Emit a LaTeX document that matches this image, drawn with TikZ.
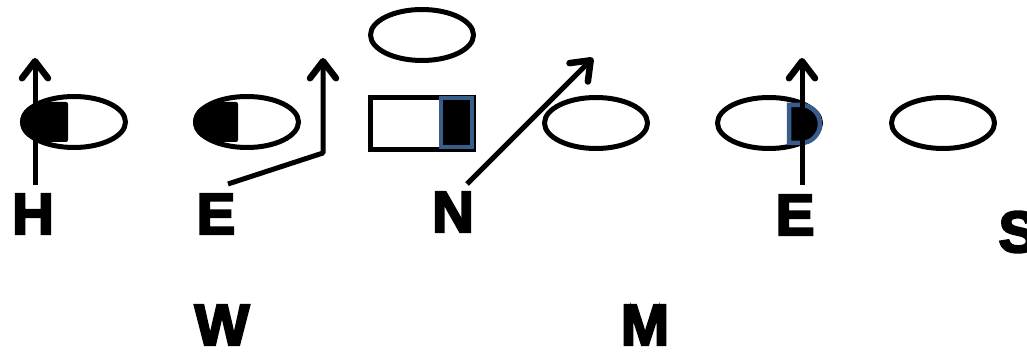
\documentclass[tikz,border=0pt]{standalone}
\usepackage{fontspec}
\usetikzlibrary{shapes.geometric,arrows.meta}
\newfontfamily\heavyfont[FakeBold=4]{Liberation Sans Bold}
\definecolor{slateblue}{HTML}{385D8A}
\begin{document}
\begin{tikzpicture}[x=1pt,y=1pt,
  spot/.style={draw=black,line width=5pt,ellipse,minimum width=103pt,minimum height=51pt,inner sep=0pt},
  ctr/.style={draw=black,line width=5pt,rectangle,minimum width=103pt,minimum height=52pt,inner sep=0pt},
  route/.style={line width=5pt,line join=round,-{Straight Barb[length=17pt,width=26pt,line width=0pt 1.3,round]}},
  lbl/.style={inner sep=0pt,font=\heavyfont\fontsize{58}{58}\selectfont},
  marked/.style={fill=black,draw=slateblue,line width=4.5pt}]
\useasboundingbox (0,0) rectangle (1027,-352);
% top ellipse
\node[spot] (top) at (422,-35) {};
% line of scrimmage
\node[spot] (o1) at (74,-122) {};
\node[spot] (o2) at (247,-122) {};
\node[ctr] (c) at (422,-123.5) {};
\node[spot] (o4) at (596,-123) {};
\node[spot] (o5) at (769,-123) {};
\node[spot] (o6) at (943,-123) {};
% filled markers
\fill[rounded corners=2pt] (68,-102) -- (45,-102) arc[start angle=90,end angle=270,x radius=25,y radius=20] -- (68,-142) -- cycle;
\fill[rounded corners=2pt] (238,-102) -- (218,-102) arc[start angle=90,end angle=270,x radius=25,y radius=20] -- (238,-142) -- cycle;
\node[marked,rectangle,minimum width=31pt,minimum height=49pt,inner sep=0pt] (cm) at (456.5,-122.5) {};
\draw[marked] (789,-105) -- (801,-105) arc[start angle=90,end angle=-90,x radius=19,y radius=19] -- (789,-143) -- cycle;
% labels
\node[lbl] (H) at (33,-214) {H};
\node[lbl] (E1) at (216,-214) {E};
\node[lbl] (N) at (453,-212) {N};
\node[lbl] (E2) at (795,-215) {E};
\node[lbl] (S) at (1018,-232) {S};
\node[lbl] (W) at (222,-325) {W};
\node[lbl] (M) at (645,-325) {M};
% routes
\coordinate (hs) at (35,-185);
\coordinate (ht) at (35,-58);
\coordinate (es) at (228,-184);
\coordinate (em) at (323,-153);
\coordinate (et) at (323,-58);
\coordinate (ns) at (467,-184);
\coordinate (nt) at (593,-58);
\coordinate (fs) at (802,-185);
\coordinate (ft) at (802,-58);
\draw[route] (hs) -- (ht);
\draw[route] (es) -- (em) -- (et);
\draw[route] (ns) -- (nt);
\draw[route] (fs) -- (ft);
\end{tikzpicture}
\end{document}
